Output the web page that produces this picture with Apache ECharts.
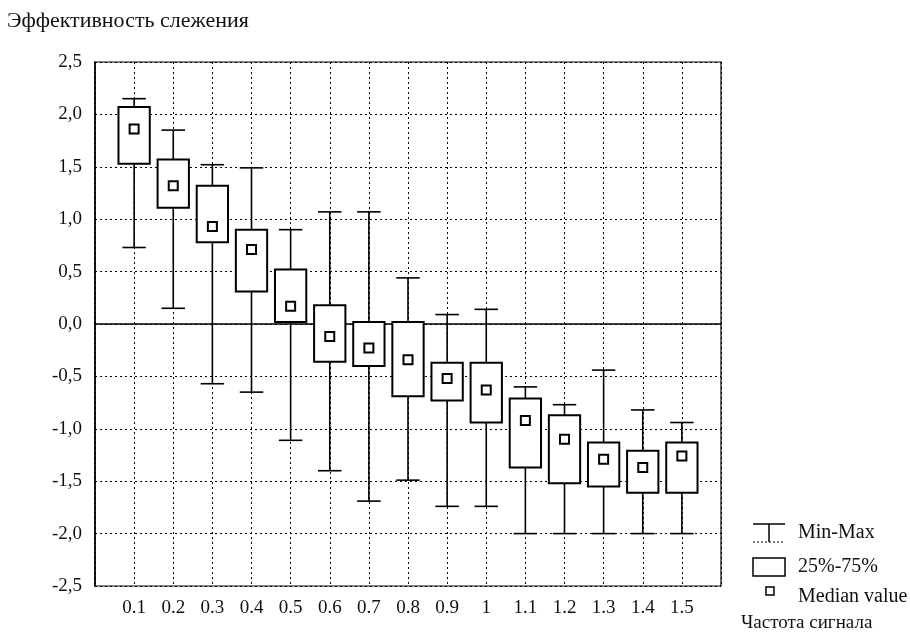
<!DOCTYPE html>
<html>
<head>
<meta charset="utf-8">
<script src="https://cdn.jsdelivr.net/npm/echarts@6/dist/echarts.min.js"></script>
<style>html,body{margin:0;padding:0;background:#fff}#c{width:910px;height:634px}</style>
</head>
<body>
<div id="c"></div>
<script>
const categories = ['', '0.1','0.2','0.3','0.4','0.5','0.6','0.7','0.8','0.9','1','1.1','1.2','1.3','1.4','1.5', ''];
const mins    = [0.73, 0.15, -0.57, -0.65, -1.11, -1.40, -1.69, -1.49, -1.74, -1.74, -2.00, -2.00, -2.00, -2.00, -2.00];
const q1s     = [1.53, 1.11, 0.78, 0.31, 0.02, -0.36, -0.40, -0.69, -0.73, -0.94, -1.37, -1.52, -1.55, -1.61, -1.61];
const medians = [1.86, 1.32, 0.93, 0.71, 0.17, -0.12, -0.23, -0.34, -0.52, -0.63, -0.92, -1.10, -1.29, -1.37, -1.26];
const q3s     = [2.07, 1.57, 1.32, 0.90, 0.52, 0.18, 0.02, 0.02, -0.37, -0.37, -0.71, -0.87, -1.13, -1.21, -1.13];
const maxs    = [2.15, 1.85, 1.52, 1.49, 0.90, 1.07, 1.07, 0.44, 0.09, 0.14, -0.60, -0.77, -0.44, -0.82, -0.94];
const yTicks = {min: -2.5, max: 2.5, interval: 0.5};

const data = mins.map((m, i) => [i + 1, m, q1s[i], medians[i], q3s[i], maxs[i]]);
const FONT = '"Liberation Serif", "DejaVu Serif", serif';

const chart = echarts.init(document.getElementById('c'));
chart.setOption({
  animation: false,
  backgroundColor: '#fff',
  grid: {left: 95, right: 189, top: 62, bottom: 48, show: true, borderColor: '#000', borderWidth: 1.2},
  xAxis: {
    type: 'category', data: categories, boundaryGap: false,
    axisLine: {show: true, lineStyle: {color: '#000', width: 1.5}},
    axisTick: {show: false},
    axisLabel: {color: '#111', fontFamily: FONT, fontSize: 19, margin: 13, interval: 0},
    splitLine: {show: true, lineStyle: {color: '#000', type: [2, 3], width: 1}}
  },
  yAxis: {
    type: 'value', min: yTicks.min, max: yTicks.max, interval: yTicks.interval,
    axisLine: {show: true, lineStyle: {color: '#000', width: 1.5}},
    axisTick: {show: false},
    axisLabel: {color: '#111', fontFamily: FONT, fontSize: 19, margin: 13,
      formatter: v => v.toFixed(1).replace('.', ',')},
    splitLine: {show: true, lineStyle: {color: '#000', type: [2, 3], width: 1}}
  },
  series: [{
    type: 'custom',
    data: data,
    encode: {x: 0, y: [1, 2, 3, 4, 5]},
    renderItem: function (params, api) {
      const x = api.value(0);
      const pMin = api.coord([x, api.value(1)]);
      const pQ1 = api.coord([x, api.value(2)]);
      const pMed = api.coord([x, api.value(3)]);
      const pQ3 = api.coord([x, api.value(4)]);
      const pMax = api.coord([x, api.value(5)]);
      const band = api.size([1, 0])[0];
      const bw = band * 0.8, cw = band * 0.6, ms = 9;
      const cx = pMin[0];
      const ls = {stroke: '#000', lineWidth: 1.6, fill: null};
      return {
        type: 'group',
        children: [
          {type: 'line', shape: {x1: cx, y1: pMin[1], x2: cx, y2: pMax[1]}, style: ls},
          {type: 'line', shape: {x1: cx - cw / 2, y1: pMin[1], x2: cx + cw / 2, y2: pMin[1]}, style: ls},
          {type: 'line', shape: {x1: cx - cw / 2, y1: pMax[1], x2: cx + cw / 2, y2: pMax[1]}, style: ls},
          {type: 'rect', shape: {x: cx - bw / 2, y: pQ3[1], width: bw, height: pQ1[1] - pQ3[1]},
            style: {fill: '#fff', stroke: '#000', lineWidth: 2}},
          {type: 'rect', shape: {x: cx - ms / 2, y: pMed[1] - ms / 2, width: ms, height: ms},
            style: {fill: '#fff', stroke: '#000', lineWidth: 2}}
        ]
      };
    }
  }],
  graphic: [
    {type: 'text', left: 7, top: 10, style: {text: 'Эффективность слежения', font: '22px ' + FONT, fill: '#111'}},
    {type: 'line', shape: {x1: 753, y1: 524, x2: 785, y2: 524}, style: {stroke: '#000', lineWidth: 1.5}},
    {type: 'line', shape: {x1: 769, y1: 524, x2: 769, y2: 542}, style: {stroke: '#000', lineWidth: 1.5}},
    {type: 'line', shape: {x1: 753, y1: 542, x2: 785, y2: 542}, style: {stroke: '#000', lineWidth: 1, lineDash: [2, 2]}},
    {type: 'rect', shape: {x: 753, y: 558, width: 32, height: 18}, style: {fill: '#fff', stroke: '#000', lineWidth: 1.5}},
    {type: 'rect', shape: {x: 766, y: 587, width: 8, height: 8}, style: {fill: '#fff', stroke: '#000', lineWidth: 1.5}},
    {type: 'text', x: 798, y: 533, style: {text: 'Min-Max', font: '20px ' + FONT, fill: '#111', verticalAlign: 'middle'}},
    {type: 'text', x: 798, y: 567, style: {text: '25%-75%', font: '20px ' + FONT, fill: '#111', verticalAlign: 'middle'}},
    {type: 'text', x: 798, y: 597, style: {text: 'Median value', font: '20px ' + FONT, fill: '#111', verticalAlign: 'middle'}},
    {type: 'text', x: 741, y: 623, style: {text: 'Частота сигнала', font: '19px ' + FONT, fill: '#111', verticalAlign: 'middle'}}
  ]
});
</script>
</body>
</html>
